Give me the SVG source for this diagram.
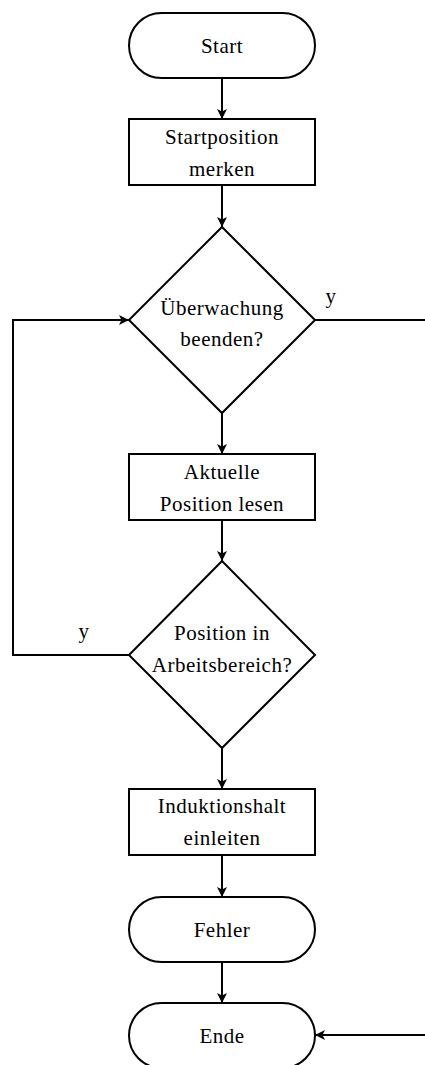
<svg xmlns="http://www.w3.org/2000/svg" width="425" height="1065" viewBox="0 0 425 1065">
<style>
.s{fill:#fff;stroke:#000;stroke-width:2}
text{font-family:'Liberation Serif','DejaVu Serif',serif;font-size:21px;letter-spacing:0.5px;fill:#000;text-anchor:middle}
.c{fill:none;stroke:#000;stroke-width:2}
</style>
<defs>
<marker id="a" viewBox="0 0 10 10" refX="10" refY="5" markerWidth="5" markerHeight="5" orient="auto" markerUnits="strokeWidth">
<path d="M0,0 L10,5 L0,10 L2.5,5 Z" fill="#000"/>
</marker>
</defs>
<rect width="425" height="1065" fill="#fff"/>
<g id="connectors">
<line class="c" x1="222" y1="78" x2="222" y2="119" marker-end="url(#a)"/>
<line class="c" x1="222" y1="185" x2="222" y2="227" marker-end="url(#a)"/>
<line class="c" x1="222" y1="413" x2="222" y2="454" marker-end="url(#a)"/>
<line class="c" x1="222" y1="520" x2="222" y2="561" marker-end="url(#a)"/>
<line class="c" x1="222" y1="748" x2="222" y2="789" marker-end="url(#a)"/>
<line class="c" x1="222" y1="855" x2="222" y2="897" marker-end="url(#a)"/>
<line class="c" x1="222" y1="962" x2="222" y2="1003" marker-end="url(#a)"/>
<polyline class="c" points="129,655 13,655 13,320 129,320" marker-end="url(#a)"/>
<line class="c" x1="315" y1="320" x2="425" y2="320"/>
<line class="c" x1="425" y1="1035" x2="315" y2="1035" marker-end="url(#a)"/>
<text x="331" y="303">y</text>
<text x="84" y="638">y</text>
</g>
<g id="start">
<rect class="s" x="129" y="13" width="186" height="65" rx="32.5"/>
<text x="222" y="53">Start</text>
</g>
<g id="startposition">
<rect class="s" x="129" y="119" width="186" height="66"/>
<text x="222" y="144">Startposition</text>
<text x="222" y="176">merken</text>
</g>
<g id="ueberwachung">
<polygon class="s" points="222,227 315,320 222,413 129,320"/>
<text x="222" y="315">Überwachung</text>
<text x="222" y="346">beenden?</text>
</g>
<g id="aktuelle">
<rect class="s" x="129" y="454" width="186" height="66"/>
<text x="222" y="479">Aktuelle</text>
<text x="222" y="511">Position lesen</text>
</g>
<g id="arbeitsbereich">
<polygon class="s" points="222,561 315,655 222,748 129,655"/>
<text x="222" y="640">Position in</text>
<text x="222" y="672">Arbeitsbereich?</text>
</g>
<g id="induktionshalt">
<rect class="s" x="129" y="789" width="186" height="66"/>
<text x="222" y="813">Induktionshalt</text>
<text x="222" y="845">einleiten</text>
</g>
<g id="fehler">
<rect class="s" x="129" y="897" width="186" height="65" rx="32.5"/>
<text x="222" y="937">Fehler</text>
</g>
<g id="ende">
<rect class="s" x="129" y="1003" width="186" height="65" rx="32.5"/>
<text x="222" y="1043">Ende</text>
</g>
</svg>
